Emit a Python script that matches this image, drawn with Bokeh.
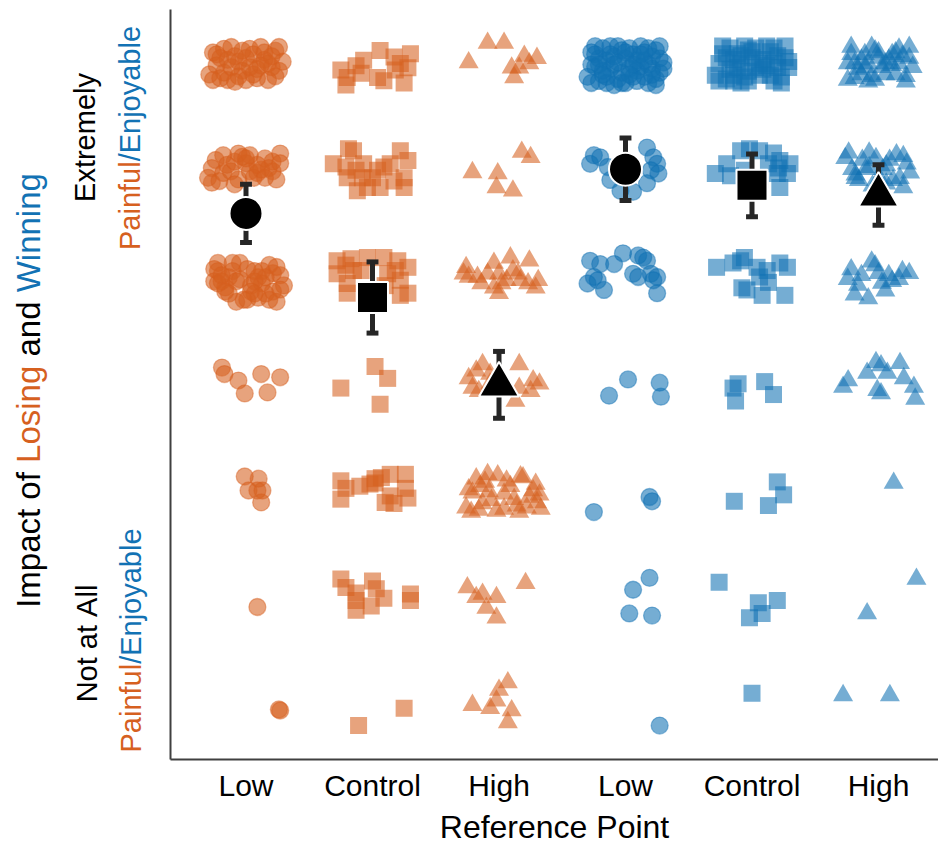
import math
from bokeh.plotting import figure
from bokeh.layouts import row
from bokeh.models import Range1d, FixedTicker
from bokeh.core.properties import value
from bokeh.embed import file_html
from bokeh.resources import INLINE

# ---------------- data ----------------
categories = ["Low", "Control", "High", "Low", "Control", "High"]
outcomes = ["Losing", "Losing", "Losing", "Winning", "Winning", "Winning"]
markers = ["circle", "square", "triangle", "circle", "square", "triangle"]

mean_values = [5.61, 4.83, 4.02, 6.02, 5.87, 5.78]
mean_errors = [0.27, 0.33, 0.31, 0.29, 0.29, 0.28]

# shared jitter pattern (unit offsets) for dense clusters
UX = [-0.9, 0.3, -0.2, 0.8, -0.6, 0.5, 0.0, -0.8, 0.9, -0.4,
      0.2, -0.7, 0.6, -0.1, 0.4, -0.5, 1.0, -0.3, 0.7, -1.0,
      0.1, -0.6, 0.3, -0.9, 0.8, -0.2, 0.5, -0.4, 0.9, 0.0,
      -0.7, 0.6, -0.1, 0.2, -0.8, 0.4, -0.5, 0.7, -0.3, 0.1,
      -0.9, 0.9, -0.2, 0.3, -0.6, 0.5, 0.0, -0.4, 0.8, -0.8,
      0.2, -0.1, 0.6, -0.5, 1.0, -0.3, 0.4, -0.7, 0.1, 0.7]
UY = [0.6, -0.8, 0.1, 0.7, -0.5, 0.2, -0.9, -0.1, -0.4, 0.9,
      0.5, 0.3, -0.9, -0.4, 0.9, -0.9, 0.1, 0.4, -0.2, -0.6,
      0.8, 0.8, -0.3, -0.9, -0.7, -0.7, 0.6, -0.2, 0.9, 0.3,
      -0.8, 0.0, 0.7, -0.6, 0.5, -0.1, 0.2, 0.4, -1.0, -0.2,
      0.0, 0.3, 0.9, 0.2, -0.3, -0.6, 0.6, 0.5, -1.0, 0.9,
      0.0, -0.9, 0.8, -0.6, -0.2, 0.0, 0.5, 0.0, -0.5, -0.5]

# dense clusters: (level, count, pattern start, x spread, y spread, x shift, y shift)
lose_low_dense = [(7, 40, 0, 0.29, 0.17, 0.0, 0.0),
                  (6, 30, 17, 0.30, 0.15, 0.0, 0.03),
                  (5, 40, 33, 0.29, 0.19, 0.01, -0.02)]
win_low_dense = [(7, 60, 5, 0.30, 0.19, 0.0, -0.01)]
win_control_dense = [(7, 45, 11, 0.29, 0.18, 0.0, 0.0)]
win_high_dense = [(7, 35, 23, 0.27, 0.17, 0.0, 0.0),
                  (6, 24, 41, 0.27, 0.17, -0.02, 0.02),
                  (5, 16, 29, 0.27, 0.18, 0.0, 0.0)]

# individually read responses: level -> (x jitter, y jitter)
lose_low_pts = {
    4: ([-0.19, -0.17, -0.06, -0.01, 0.12, 0.17, 0.27], [0.18, 0.12, 0.06, -0.06, 0.12, -0.05, 0.09]),
    3: ([-0.01, 0.10, 0.02, 0.13, 0.09, 0.12], [0.17, 0.15, 0.04, 0.04, 0.04, -0.07]),
    2: ([0.09], [-0.04]),
    1: ([0.26, 0.27], [0.01, 0.0]),
}
lose_control_pts = {
    7: ([-0.25, -0.20, -0.21, -0.13, -0.07, -0.09, 0.06, 0.04, 0.09, 0.17, 0.22, 0.30, 0.28, 0.25, 0.18],
        [-0.06, -0.13, -0.20, -0.02, 0.03, -0.09, 0.12, -0.13, -0.16, 0.06, 0.0, 0.09, -0.04, -0.18, -0.06]),
    6: ([-0.31, -0.19, -0.15, -0.21, -0.20, -0.13, -0.08, -0.12, -0.04, 0.0, 0.06, 0.09, 0.14, 0.22, 0.28, 0.25, 0.25, 0.17, 0.04, -0.07],
        [0.07, 0.21, 0.19, 0.04, -0.06, 0.01, -0.06, -0.18, -0.15, -0.06, -0.15, 0.04, 0.07, 0.19, 0.10, -0.06, -0.15, -0.09, 0.01, 0.07]),
    5: ([-0.28, -0.17, -0.04, 0.09, 0.20, 0.28, -0.28, -0.20, -0.15, 0.12, 0.22, 0.28, -0.20, -0.21, 0.18, 0.22, -0.09, 0.10],
        [0.17, 0.19, 0.20, 0.20, 0.17, 0.11, 0.05, -0.04, 0.08, 0.05, -0.01, -0.13, -0.13, 0.13, 0.08, -0.15, 0.08, -0.06]),
    4: ([-0.25, 0.02, 0.12, 0.06], [-0.01, 0.19, 0.08, -0.16]),
    3: ([-0.25, -0.21, -0.25, -0.10, -0.02, 0.02, 0.07, 0.14, 0.26, 0.26, 0.28, 0.14, 0.10, 0.17, 0.02],
        [0.13, 0.06, -0.04, 0.08, 0.10, 0.15, 0.16, 0.19, 0.19, 0.06, -0.03, -0.01, -0.07, -0.08, 0.11]),
    2: ([-0.25, -0.21, -0.13, -0.13, 0.0, 0.03, 0.09, -0.01, 0.30, 0.30, -0.13],
        [0.22, 0.14, 0.09, -0.07, 0.20, 0.13, 0.04, -0.03, 0.08, 0.02, 0.02]),
    1: ([-0.11, 0.25], [-0.14, 0.02]),
}
lose_high_pts = {
    7: ([-0.24, -0.09, 0.04, 0.20, 0.30, 0.10, 0.16, 0.24, 0.12],
        [0.01, 0.19, 0.19, 0.07, 0.05, -0.04, -0.04, 0.0, -0.13]),
    6: ([-0.21, -0.01, -0.02, 0.11, 0.18, 0.25], [-0.01, -0.02, -0.15, -0.18, 0.18, 0.13]),
    5: ([-0.26, -0.24, -0.17, -0.14, -0.04, 0.0, 0.09, 0.11, 0.24, 0.17, 0.23, 0.29, 0.0, -0.04, -0.28, -0.09, 0.06, 0.15, 0.31, 0.02],
        [0.11, 0.02, 0.02, -0.04, 0.15, 0.05, 0.20, 0.08, 0.17, -0.01, -0.04, -0.08, -0.13, -0.08, 0.05, 0.05, -0.01, 0.05, -0.01, -0.04]),
    4: ([-0.24, -0.18, -0.13, -0.07, -0.21, -0.16, -0.07, 0.16, 0.27, 0.32, 0.25, 0.13, 0.02, 0.16],
        [0.08, 0.15, 0.21, 0.12, -0.01, -0.04, 0.03, 0.21, 0.06, 0.03, -0.04, -0.13, 0.06, -0.01]),
    3: ([-0.26, -0.21, -0.16, -0.11, -0.06, -0.01, 0.04, 0.09, 0.14, 0.19, 0.24, 0.29, 0.33, -0.24, -0.18, -0.13, -0.08, -0.02, 0.06, 0.12, 0.17, 0.22, 0.27, 0.32, -0.22, -0.09, 0.04, 0.16, 0.30, -0.15],
        [-0.12, 0.02, -0.14, 0.12, -0.05, 0.18, -0.13, 0.08, -0.10, 0.16, -0.02, 0.10, -0.13, 0.05, 0.15, -0.08, 0.03, -0.15, 0.13, -0.04, 0.17, -0.12, 0.04, 0.00, -0.16, 0.19, 0.01, -0.16, -0.07, 0.08]),
    2: ([-0.25, -0.18, -0.13, -0.02, -0.10, -0.02, 0.21], [0.14, 0.05, 0.08, 0.05, -0.05, -0.14, 0.18]),
    1: ([0.07, 0.0, -0.02, -0.21, -0.07, 0.10, 0.07], [0.26, 0.19, 0.09, 0.05, 0.02, 0.0, -0.11]),
}
win_low_pts = {
    6: ([-0.25, -0.28, -0.20, -0.12, -0.14, 0.17, 0.22, 0.25, 0.20, 0.26, 0.17, -0.04, 0.06],
        [0.15, 0.07, 0.13, -0.08, 0.04, 0.22, 0.13, 0.07, 0.01, -0.02, -0.11, -0.18, -0.19]),
    5: ([-0.28, -0.20, -0.09, -0.02, 0.10, 0.17, 0.06, 0.10, 0.20, 0.25, 0.25, -0.30, -0.22, -0.17, -0.25, 0.14, 0.22],
        [0.17, 0.14, 0.14, 0.24, 0.22, 0.17, 0.05, 0.02, 0.05, 0.02, -0.13, -0.04, -0.01, -0.10, 0.02, 0.20, -0.01]),
    4: ([0.02, -0.13, 0.27, 0.28], [0.07, -0.08, 0.04, -0.09]),
    3: ([-0.25, 0.19, 0.21], [-0.16, -0.02, -0.06]),
    2: ([0.19, 0.06, 0.03, 0.21], [0.23, 0.12, -0.10, -0.12]),
    1: ([0.27], [-0.14]),
}
win_control_pts = {
    6: ([-0.29, -0.20, -0.17, -0.09, -0.02, 0.06, 0.17, 0.22, 0.30, 0.28, 0.20, 0.22, 0.13, 0.21, -0.06, 0.06],
        [-0.02, 0.07, -0.04, 0.19, 0.21, 0.19, 0.17, 0.10, 0.07, -0.02, -0.02, -0.15, 0.07, 0.03, 0.01, -0.08]),
    5: ([-0.28, -0.15, -0.09, -0.06, 0.04, 0.06, 0.13, -0.08, -0.04, 0.08, 0.22, 0.28, 0.26, 0.12],
        [0.11, 0.15, 0.17, 0.20, 0.11, 0.02, -0.03, -0.08, -0.10, -0.15, 0.15, 0.11, -0.15, 0.08]),
    4: ([-0.15, -0.11, -0.13, 0.10, 0.17], [-0.01, 0.03, -0.13, 0.05, -0.07]),
    3: ([-0.14, 0.20, 0.25, 0.13], [-0.06, 0.12, 0.0, -0.10]),
    2: ([-0.26, 0.05, 0.20, 0.08, -0.02], [0.19, 0.0, 0.02, -0.10, -0.14]),
    1: ([0.0], [0.16]),
}
win_high_pts = {
    4: ([-0.28, -0.24, -0.09, -0.02, 0.02, 0.07, 0.17, 0.20, 0.02, -0.01, 0.28, 0.29],
        [0.0, 0.06, 0.13, 0.23, 0.20, 0.13, 0.22, 0.08, -0.06, -0.03, 0.0, -0.11]),
    3: ([0.12], [0.11]),
    2: ([0.30, -0.09], [0.22, -0.10]),
    1: ([-0.28, 0.09], [0.14, 0.14]),
}

group_points = [lose_low_pts, lose_control_pts, lose_high_pts, win_low_pts, win_control_pts, win_high_pts]
group_dense = [lose_low_dense, [], [], win_low_dense, win_control_dense, win_high_dense]

# ---------------- styling / layout ----------------
ORANGE = "#D6601F"
BLUE = "#1272B4"
FONT = "Liberation Sans"
W, H = 938, 848
LEFT_W = 160                      # width of the label strip
FRAME_L, FRAME_R, FRAME_T, FRAME_B = 170, 938, 9, 759
X0, X1 = 0.4032, 6.4743
Y0, Y1 = 0.5456, 7.5008

p = figure(width=W - LEFT_W, height=H, output_backend="svg", toolbar_location=None, title=None,
           x_range=Range1d(X0, X1), y_range=Range1d(Y0, Y1),
           min_border_left=FRAME_L - LEFT_W, min_border_right=0,
           min_border_top=FRAME_T, min_border_bottom=H - FRAME_B)
p.outline_line_color = None
p.grid.visible = False

# x axis
p.xaxis.ticker = FixedTicker(ticks=[1, 2, 3, 4, 5, 6])
p.xaxis.major_label_overrides = {i + 1: c for i, c in enumerate(categories)}
p.xaxis.major_label_text_font = FONT
p.xaxis.major_label_text_font_size = "30px"
p.xaxis.major_label_text_color = "black"
p.xaxis.major_label_standoff = 9
p.xaxis.major_tick_line_color = None
p.xaxis.major_tick_out = 0
p.xaxis.major_tick_in = 0
p.xaxis.minor_tick_line_color = None
p.xaxis.axis_line_width = 2
p.xaxis.axis_line_color = "#404040"
p.xaxis.axis_label = "Reference Point"
p.xaxis.axis_label_text_font = FONT
p.xaxis.axis_label_text_font_size = "32px"
p.xaxis.axis_label_text_font_style = "normal"
p.xaxis.axis_label_text_color = "black"
p.xaxis.axis_label_standoff = 4

# y axis: line only
p.yaxis.ticker = FixedTicker(ticks=[])
p.yaxis.major_tick_line_color = None
p.yaxis.major_tick_out = 0
p.yaxis.major_tick_in = 0
p.yaxis.major_label_standoff = 0
p.yaxis.minor_tick_line_color = None
p.yaxis.major_label_text_font_size = "0px"
p.yaxis.axis_line_width = 2
p.yaxis.axis_line_color = "#404040"

# ---------------- points ----------------
for g in range(6):
    xs, ys = [], []
    for lev, (dxs, dys) in group_points[g].items():
        for a, b in zip(dxs, dys):
            xs.append(g + 1 + a)
            ys.append(lev + b)
    for (lev, n, s, hx, hy, cx, cy) in group_dense[g]:
        for i in range(n):
            k = (s + i) % len(UX)
            xs.append(g + 1 + cx + hx * UX[k])
            ys.append(lev + cy + hy * UY[k])
    col = ORANGE if outcomes[g] == "Losing" else BLUE
    mk = markers[g]
    if mk == "circle":
        p.scatter(xs, ys, marker="circle", size=17, fill_color=col, fill_alpha=0.58,
                  line_color=col, line_alpha=0.45, line_width=1.3)
    elif mk == "square":
        p.scatter(xs, ys, marker="square", size=17, fill_color=col, fill_alpha=0.58, line_color=None)
    else:
        p.scatter(xs, ys, marker="triangle", size=20, fill_color=col, fill_alpha=0.58, line_color=None)

# ---------------- means and error bars ----------------
gx = [1, 2, 3, 4, 5, 6]
lo = [m - e for m, e in zip(mean_values, mean_errors)]
hi = [m + e for m, e in zip(mean_values, mean_errors)]
cap = 0.047
p.segment(gx, lo, gx, hi, line_color="#262626", line_width=5)
p.segment([x - cap for x in gx], hi, [x + cap for x in gx], hi, line_color="#262626", line_width=5)
p.segment([x - cap for x in gx], lo, [x + cap for x in gx], lo, line_color="#262626", line_width=5)

mean_sizes = {"circle": 33, "square": 31, "triangle": 40}
for g in range(6):
    mk = markers[g]
    p.scatter([gx[g]], [mean_values[g]], marker=mk, size=mean_sizes[mk],
              fill_color="black", line_color="white", line_width=2)

# ---------------- label strip with rotated, multi-coloured y labels ----------------
# its frame is aligned with the main frame (rows align frames), so map page y onto it
lab = figure(width=LEFT_W, height=H, output_backend="svg", toolbar_location=None, title=None,
             x_range=Range1d(0, LEFT_W), y_range=Range1d(H - FRAME_B, H - FRAME_T),
             x_axis_type=None, y_axis_type=None,
             min_border_left=0, min_border_right=0,
             min_border_top=FRAME_T, min_border_bottom=H - FRAME_B)
lab.outline_line_color = None
lab.grid.visible = False

AW = {" ": 278, "/": 278, "A": 667, "E": 667, "I": 278, "L": 556, "N": 722, "P": 667, "R": 722,
      "W": 944, "a": 556, "b": 556, "c": 500, "d": 556, "e": 556, "f": 278, "g": 556, "i": 222,
      "j": 222, "l": 222, "m": 833, "n": 556, "o": 556, "p": 556, "r": 333, "s": 500, "t": 278,
      "u": 556, "x": 500, "y": 500}


def text_len(s, size):
    return sum(AW.get(c, 556) for c in s) / 1000.0 * size


def vlabel(segments, size, mid_px, center_py):
    # segments: (word, colour, space_after)
    total = sum(text_len(t, size) + (text_len(" ", size) if sp else 0) for t, _, sp in segments)
    py = center_py + total / 2.0
    for t, col, sp in segments:
        lab.text(x=[mid_px], y=[H - py], text=[t], angle=math.pi / 2,
                 text_font=value(FONT), text_font_size=f"{size}px", text_color=col,
                 text_align="left", text_baseline="middle")
        py -= text_len(t, size) + (text_len(" ", size) if sp else 0)


vlabel([("Impact", "black", True), ("of", "black", True), ("Losing", ORANGE, True),
        ("and", "black", True), ("Winning", BLUE, False)], 33, 28, 390)
vlabel([("Extremely", "black", False)], 29, 84, 137)
vlabel([("Painful", ORANGE, False), ("/Enjoyable", BLUE, False)], 29, 129, 137.5)
vlabel([("Not", "black", True), ("at", "black", True), ("All", "black", False)], 29, 86, 643)
vlabel([("Painful", ORANGE, False), ("/Enjoyable", BLUE, False)], 29, 130, 640)

layout = row(lab, p, spacing=0)
open("out.html", "w").write(file_html(layout, INLINE))
